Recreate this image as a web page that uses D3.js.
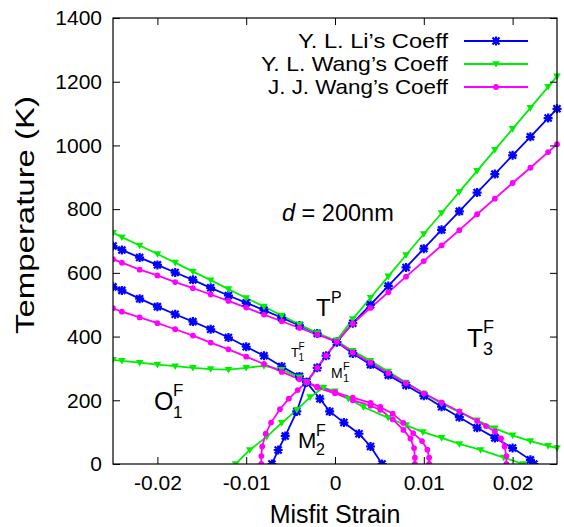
<!DOCTYPE html>
<html><head><meta charset="utf-8">
<script src="https://cdn.jsdelivr.net/npm/d3@7/dist/d3.min.js"></script>
<style>
body{margin:0;background:#fff;}
text{font-family:"Liberation Sans",Arial,Helvetica,sans-serif;fill:#000;}
</style></head>
<body>
<svg id="chart" width="564" height="527"></svg>
<script>
// ---------- data (strain, temperature K) ----------
const xTicks = [-0.02, -0.01, 0, 0.01, 0.02];
const xTickLabels = ["-0.02", "-0.01", "0", "0.01", "0.02"];
const yTicks = [0, 200, 400, 600, 800, 1000, 1200, 1400];
const seriesNames = ["Y. L. Li\u2019s Coeff", "Y. L. Wang\u2019s Coeff", "J. J. Wang\u2019s Coeff"];

// Y. L. Li's coefficients (blue)
const liDesc = [[-0.025,684],[-0.024,672],[-0.022,648],[-0.020,625],[-0.018,601],[-0.016,578],[-0.014,553],[-0.012,529],[-0.010,506],[-0.008,483],[-0.006,459],[-0.004,435],[-0.002,410],[0.0002,383],[0.002,347],[0.004,312],[0.006,279],[0.008,247],[0.010,214],[0.012,180],[0.014,147],[0.016,114],[0.018,82],[0.020,50],[0.022,13],[0.0224,0]];
const liAsc = [[-0.0071,0],[-0.0064,44],[-0.0056,88],[-0.0043,165],[-0.0032,257],[-0.002,302],[-0.001,340],[0.0002,383],[0.002,442],[0.004,500],[0.006,559],[0.008,617],[0.010,676],[0.012,735],[0.014,793],[0.016,852],[0.018,910],[0.020,969],[0.022,1027],[0.024,1086],[0.025,1115]];
const liLow = [[-0.025,556],[-0.024,545],[-0.022,519],[-0.020,494],[-0.018,470],[-0.016,447],[-0.014,423],[-0.012,397],[-0.010,368],[-0.008,340],[-0.006,306],[-0.004,275],[-0.0032,257],[-0.0017,205],[-0.0006,165],[0.001,130],[0.0027,95],[0.004,55],[0.0053,0]];

// Y. L. Wang's coefficients (green)
const ylwDesc = [[-0.025,726],[-0.024,712],[-0.022,686],[-0.020,659],[-0.018,632],[-0.016,604],[-0.014,577],[-0.012,549],[-0.010,521],[-0.008,494],[-0.006,466],[-0.004,438],[-0.002,411],[0.0002,386],[0.002,355],[0.004,324],[0.006,290],[0.008,256],[0.010,221],[0.012,190],[0.014,163],[0.016,137],[0.018,112],[0.020,90],[0.022,72],[0.024,57],[0.025,50]];
const ylwAsc = [[0.0002,388],[0.002,455],[0.004,522],[0.006,589],[0.008,656],[0.010,722],[0.012,788],[0.014,854],[0.016,920],[0.018,986],[0.020,1052],[0.022,1118],[0.024,1184],[0.025,1217]];
const ylwFlat = [[-0.025,327],[-0.024,324],[-0.022,318],[-0.020,312],[-0.018,307],[-0.016,302],[-0.014,298],[-0.012,296],[-0.010,302],[-0.008,308],[-0.006,296],[-0.004,272],[-0.0032,257]];
const ylwArch = [[-0.0112,0],[-0.0096,44],[-0.0077,85],[-0.006,129],[-0.0043,170],[-0.0028,210],[-0.0013,240],[0.0,228],[0.0015,205],[0.0032,179],[0.006,145],[0.008,122],[0.0099,100],[0.012,82],[0.014,63],[0.0164,44],[0.019,20],[0.0212,0]];

// J. J. Wang's coefficients (magenta)
const jjwDesc = [[-0.025,643],[-0.024,632],[-0.022,610],[-0.020,592],[-0.018,571],[-0.016,552],[-0.014,532],[-0.012,512],[-0.010,491],[-0.008,469],[-0.006,448],[-0.004,427],[-0.002,406],[0.0002,384],[0.002,350],[0.004,318],[0.006,285],[0.008,254],[0.010,222],[0.012,193],[0.014,165],[0.016,135],[0.017,119],[0.018,102],[0.0187,80],[0.0191,55],[0.0193,25],[0.0193,0]];
const jjwAsc = [[-0.0083,0],[-0.0083,25],[-0.0082,55],[-0.0078,95],[-0.0072,130],[-0.0062,172],[-0.0052,205],[-0.0042,232],[-0.0032,257],[-0.002,302],[-0.001,340],[0.0002,384],[0.002,441],[0.004,490],[0.006,539],[0.008,588],[0.010,637],[0.012,686],[0.014,734],[0.016,784],[0.018,833],[0.020,882],[0.022,930],[0.024,979],[0.025,1004]];
const jjwLow = [[-0.025,489],[-0.024,478],[-0.022,460],[-0.020,442],[-0.018,423],[-0.016,403],[-0.014,381],[-0.012,360],[-0.010,337],[-0.008,314],[-0.006,289],[-0.004,266],[-0.0032,257]];
const jjwInner = [[-0.0032,257],[-0.002,240],[0.0,222],[0.002,200],[0.004,183],[0.0051,170],[0.0065,140],[0.0077,107],[0.0085,80],[0.0089,50],[0.009,20],[0.009,0]];
const jjwOuter = [[-0.0032,257],[-0.002,243],[0.0,226],[0.002,208],[0.004,192],[0.0051,179],[0.0065,158],[0.0077,129],[0.0088,97],[0.0098,72],[0.0104,45],[0.0106,20],[0.0106,0]];

// ---------- layout ----------
const svg = d3.select("#chart");
const L = 113, R = 557, T = 18, B = 464;
const x = d3.scaleLinear().domain([-0.025, 0.025]).range([L, R]);
const y = d3.scaleLinear().domain([0, 1400]).range([B, T]);

const styles = [
  {color:"#0000ff", marker:"star", curves:[liDesc, liAsc, liLow]},
  {color:"#00ee00", marker:"tri",  curves:[ylwDesc, ylwAsc, ylwFlat, ylwArch]},
  {color:"#ff00ff", marker:"dot",  curves:[jjwDesc, jjwAsc, jjwLow, jjwInner, jjwOuter]}
];

svg.append("defs").append("clipPath").attr("id","clip")
  .append("rect").attr("x",L).attr("y",T-4).attr("width",R-L+6).attr("height",B-T+4);

function drawMarker(g, type, color, cx, cy){
  if(type==="star"){
    g.append("path").attr("d",`M${cx-3.5},${cy-3.5}L${cx+3.5},${cy+3.5}M${cx-3.5},${cy+3.5}L${cx+3.5},${cy-3.5}M${cx},${cy-4.5}L${cx},${cy+4.5}M${cx-4.5},${cy}L${cx+4.5},${cy}`)
      .attr("stroke",color).attr("stroke-width",2.2).attr("fill","none");
  } else if(type==="tri"){
    g.append("path").attr("d",`M${cx-3.8},${cy-2.8}L${cx+3.8},${cy-2.8}L${cx},${cy+3.8}Z`).attr("fill",color);
  } else {
    g.append("circle").attr("cx",cx).attr("cy",cy).attr("r",2.9).attr("fill",color);
  }
}

const line = d3.line().x(d=>x(d[0])).y(d=>y(d[1]));
const plot = svg.append("g").attr("clip-path","url(#clip)");
styles.forEach(s=>{
  s.curves.forEach(c=>{
    plot.append("path").datum(c).attr("d",line).attr("fill","none")
      .attr("stroke",s.color).attr("stroke-width",1.8);
  });
});
styles.forEach(s=>{
  s.curves.forEach(c=>{
    c.forEach(p=>drawMarker(plot, s.marker, s.color, x(p[0]), y(p[1])));
  });
});

// ---------- axes ----------
const fmt = d=>xTickLabels[xTicks.indexOf(d)];
const xAxis = svg.append("g").attr("transform",`translate(0,${B})`)
  .call(d3.axisBottom(x).tickValues(xTicks).tickFormat(fmt).tickSizeInner(-7).tickSizeOuter(0).tickPadding(11));
const xTop = svg.append("g").attr("transform",`translate(0,${T})`)
  .call(d3.axisTop(x).tickValues(xTicks).tickFormat("").tickSizeInner(-7).tickSizeOuter(0));
const yAxis = svg.append("g").attr("transform",`translate(${L},0)`)
  .call(d3.axisLeft(y).tickValues(yTicks).tickFormat(d3.format("d")).tickSizeInner(-7).tickSizeOuter(0).tickPadding(11));
const yRight = svg.append("g").attr("transform",`translate(${R},0)`)
  .call(d3.axisRight(y).tickValues(yTicks).tickFormat("").tickSizeInner(-7).tickSizeOuter(0));
[xAxis,xTop,yAxis,yRight].forEach(g=>{
  g.select(".domain").remove();
  g.selectAll("line").attr("stroke","#000").attr("stroke-width",1);
  g.selectAll("text").attr("font-size",21).attr("font-family","Liberation Sans, Arial, sans-serif").attr("fill","#000");
});
svg.append("rect").attr("x",L).attr("y",T).attr("width",R-L).attr("height",B-T)
  .attr("fill","none").attr("stroke","#000").attr("stroke-width",1.2);

// axis titles
svg.append("text").attr("x",(L+R)/2).attr("y",523).attr("text-anchor","middle")
  .attr("font-size",25).text("Misfit Strain");
svg.append("text").attr("transform","translate(34,215) rotate(-90)").attr("text-anchor","middle")
  .attr("font-size",26).attr("textLength",238).attr("lengthAdjust","spacingAndGlyphs").text("Temperature (K)");

// ---------- legend ----------
const legY = [41, 64, 87];
styles.forEach((s,i)=>{
  svg.append("text").attr("x",448).attr("y",legY[i]+7).attr("text-anchor","end")
    .attr("font-size",21).attr("textLength",i===0?150:(i===1?187:180)).attr("lengthAdjust","spacingAndGlyphs")
    .text(seriesNames[i]);
  svg.append("line").attr("x1",464).attr("x2",528).attr("y1",legY[i]).attr("y2",legY[i])
    .attr("stroke",s.color).attr("stroke-width",1.8);
  drawMarker(svg, s.marker, s.color, 496, legY[i]);
});

// ---------- annotations ----------
function label(base, sup, sub, xx, yy, fs, fs2, dx){
  const g = svg.append("g");
  g.append("text").attr("x",xx).attr("y",yy).attr("font-size",fs).text(base);
  if(sup) g.append("text").attr("x",xx+dx).attr("y",yy-fs*0.55).attr("font-size",fs2).text(sup);
  if(sub) g.append("text").attr("x",xx+dx).attr("y",yy+fs*0.3).attr("font-size",fs2).text(sub);
}
const dLab = svg.append("text").attr("x",282).attr("y",221).attr("font-size",23.5);
dLab.append("tspan").attr("font-style","italic").text("d");
dLab.append("tspan").text(" = 200nm");
label("T","P",null,316,316,24,16,15);
label("T","F","3",467,347,26,18,16);
label("T","F","1",291,357,13,10,7.5);
label("M","F","1",331,378,14,11,12);
label("O","F","1",154,410,25,17,19);
label("M","F","2",298,448,22,16,18);
</script>
</body></html>
